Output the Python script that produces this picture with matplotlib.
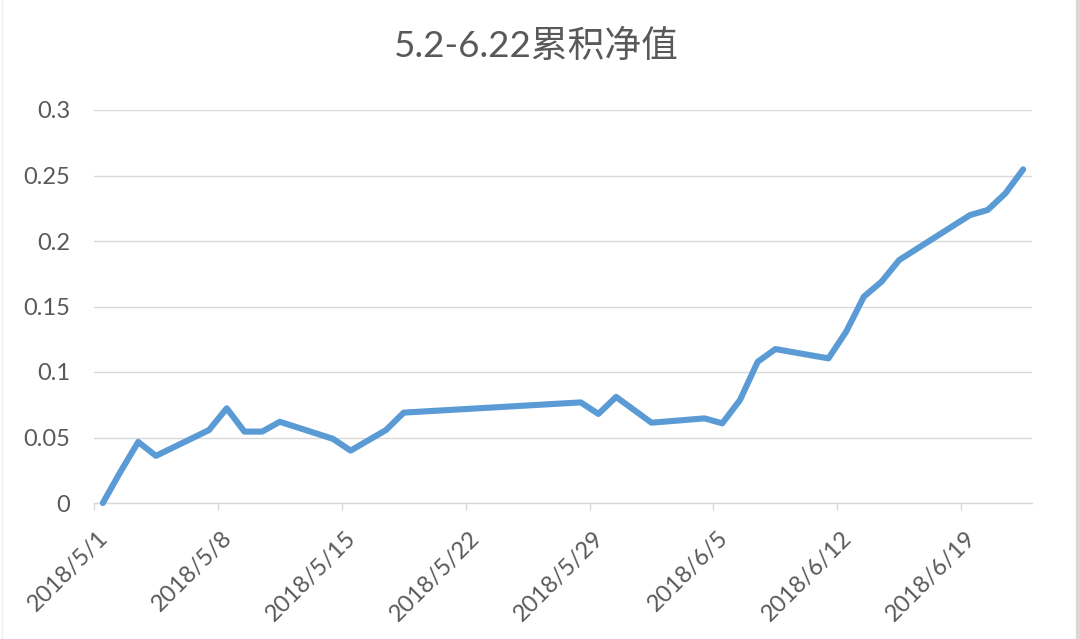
import matplotlib
matplotlib.use("Agg")
import matplotlib.pyplot as plt
import matplotlib.dates as mdates
import matplotlib.transforms as mtransforms
import numpy as np
import pandas as pd

plt.rcParams['font.family'] = ['Lato', 'Noto Sans CJK SC', 'DejaVu Sans']

title = "5.2-6.22累积净值"
dates = ['2018-05-01', '2018-05-02', '2018-05-03', '2018-05-04', '2018-05-07',
         '2018-05-08', '2018-05-09', '2018-05-10', '2018-05-11', '2018-05-14',
         '2018-05-15', '2018-05-17', '2018-05-18', '2018-05-28', '2018-05-29',
         '2018-05-30', '2018-06-01', '2018-06-04', '2018-06-05', '2018-06-06',
         '2018-06-07', '2018-06-08', '2018-06-11', '2018-06-12', '2018-06-13',
         '2018-06-14', '2018-06-15', '2018-06-19', '2018-06-20', '2018-06-21',
         '2018-06-22']
values = [0.0, 0.024, 0.0466, 0.036, 0.0557,
          0.0723, 0.0545, 0.0545, 0.062, 0.049,
          0.040, 0.0557, 0.069, 0.0768, 0.068,
          0.081, 0.0613, 0.0646, 0.0608, 0.0786,
          0.1078, 0.1175, 0.1104, 0.1308, 0.1575,
          0.169, 0.1855, 0.2198, 0.2237, 0.2364,
          0.2547]
tick_dates = ['2018-05-01', '2018-05-08', '2018-05-15', '2018-05-22',
              '2018-05-29', '2018-06-05', '2018-06-12', '2018-06-19']
tick_labels = ['2018/5/1', '2018/5/8', '2018/5/15', '2018/5/22',
               '2018/5/29', '2018/6/5', '2018/6/12', '2018/6/19']
y_ticks = [0, 0.05, 0.1, 0.15, 0.2, 0.25, 0.3]
y_labels = ['0', '0.05', '0.1', '0.15', '0.2', '0.25', '0.3']

text_color = '#595959'
grid_color = '#D9D9D9'
line_color = '#5B9BD5'

fig = plt.figure(figsize=(10.8, 6.39), dpi=100)
fig.patch.set_facecolor('white')
ax = fig.add_axes([94/1080, 1-503/639, (1032-94)/1080, (503-110)/639])

x = mdates.date2num(pd.to_datetime(dates)) + 0.5  # centred in each day slot
ax.plot(x, values, color=line_color, lw=4.4, solid_joinstyle='round',
        solid_capstyle='round', zorder=3, clip_on=False)

ax.set_ylim(0, 0.3)
ax.set_xlim(mdates.date2num(pd.Timestamp('2018-05-01')),
            mdates.date2num(pd.Timestamp('2018-06-23')))

ax.set_yticks(y_ticks)
ax.set_yticklabels(y_labels)
ax.yaxis.grid(True, color=grid_color, lw=1.0)
ax.set_axisbelow(True)
ax.tick_params(axis='y', length=0, pad=17, labelsize=17, labelcolor=text_color)

tx = mdates.date2num(pd.to_datetime(tick_dates))
ax.set_xticks(tx)
ax.set_xticklabels(tick_labels, rotation=45, ha='right', va='center',
                   rotation_mode='anchor')
ax.tick_params(axis='x', length=5, width=1, color=grid_color, pad=0,
               labelsize=17, labelcolor=text_color)
offset = mtransforms.ScaledTranslation(11/100, -25/100, fig.dpi_scale_trans)
for lab in ax.get_xticklabels():
    lab.set_transform(lab.get_transform() + offset)

for s in ['top', 'right', 'left']:
    ax.spines[s].set_visible(False)
ax.spines['bottom'].set_color(grid_color)
ax.spines['bottom'].set_linewidth(1.0)

fig.text(536/1080, 1-46/639, title, ha='center', va='center',
         fontsize=26.5, color=text_color,
         family=['Lato', 'Noto Sans CJK SC', 'DejaVu Sans'])

# chart border hints
fig.add_artist(plt.Line2D([2/1080, 2/1080], [0, 1], color='#EEEEEE', lw=1))
fig.add_artist(plt.Rectangle((1076/1080, 0), 4/1080, 1, color='#D9D9D9',
                             transform=fig.transFigure))

fig.savefig('out.png', dpi=100, facecolor='white')
